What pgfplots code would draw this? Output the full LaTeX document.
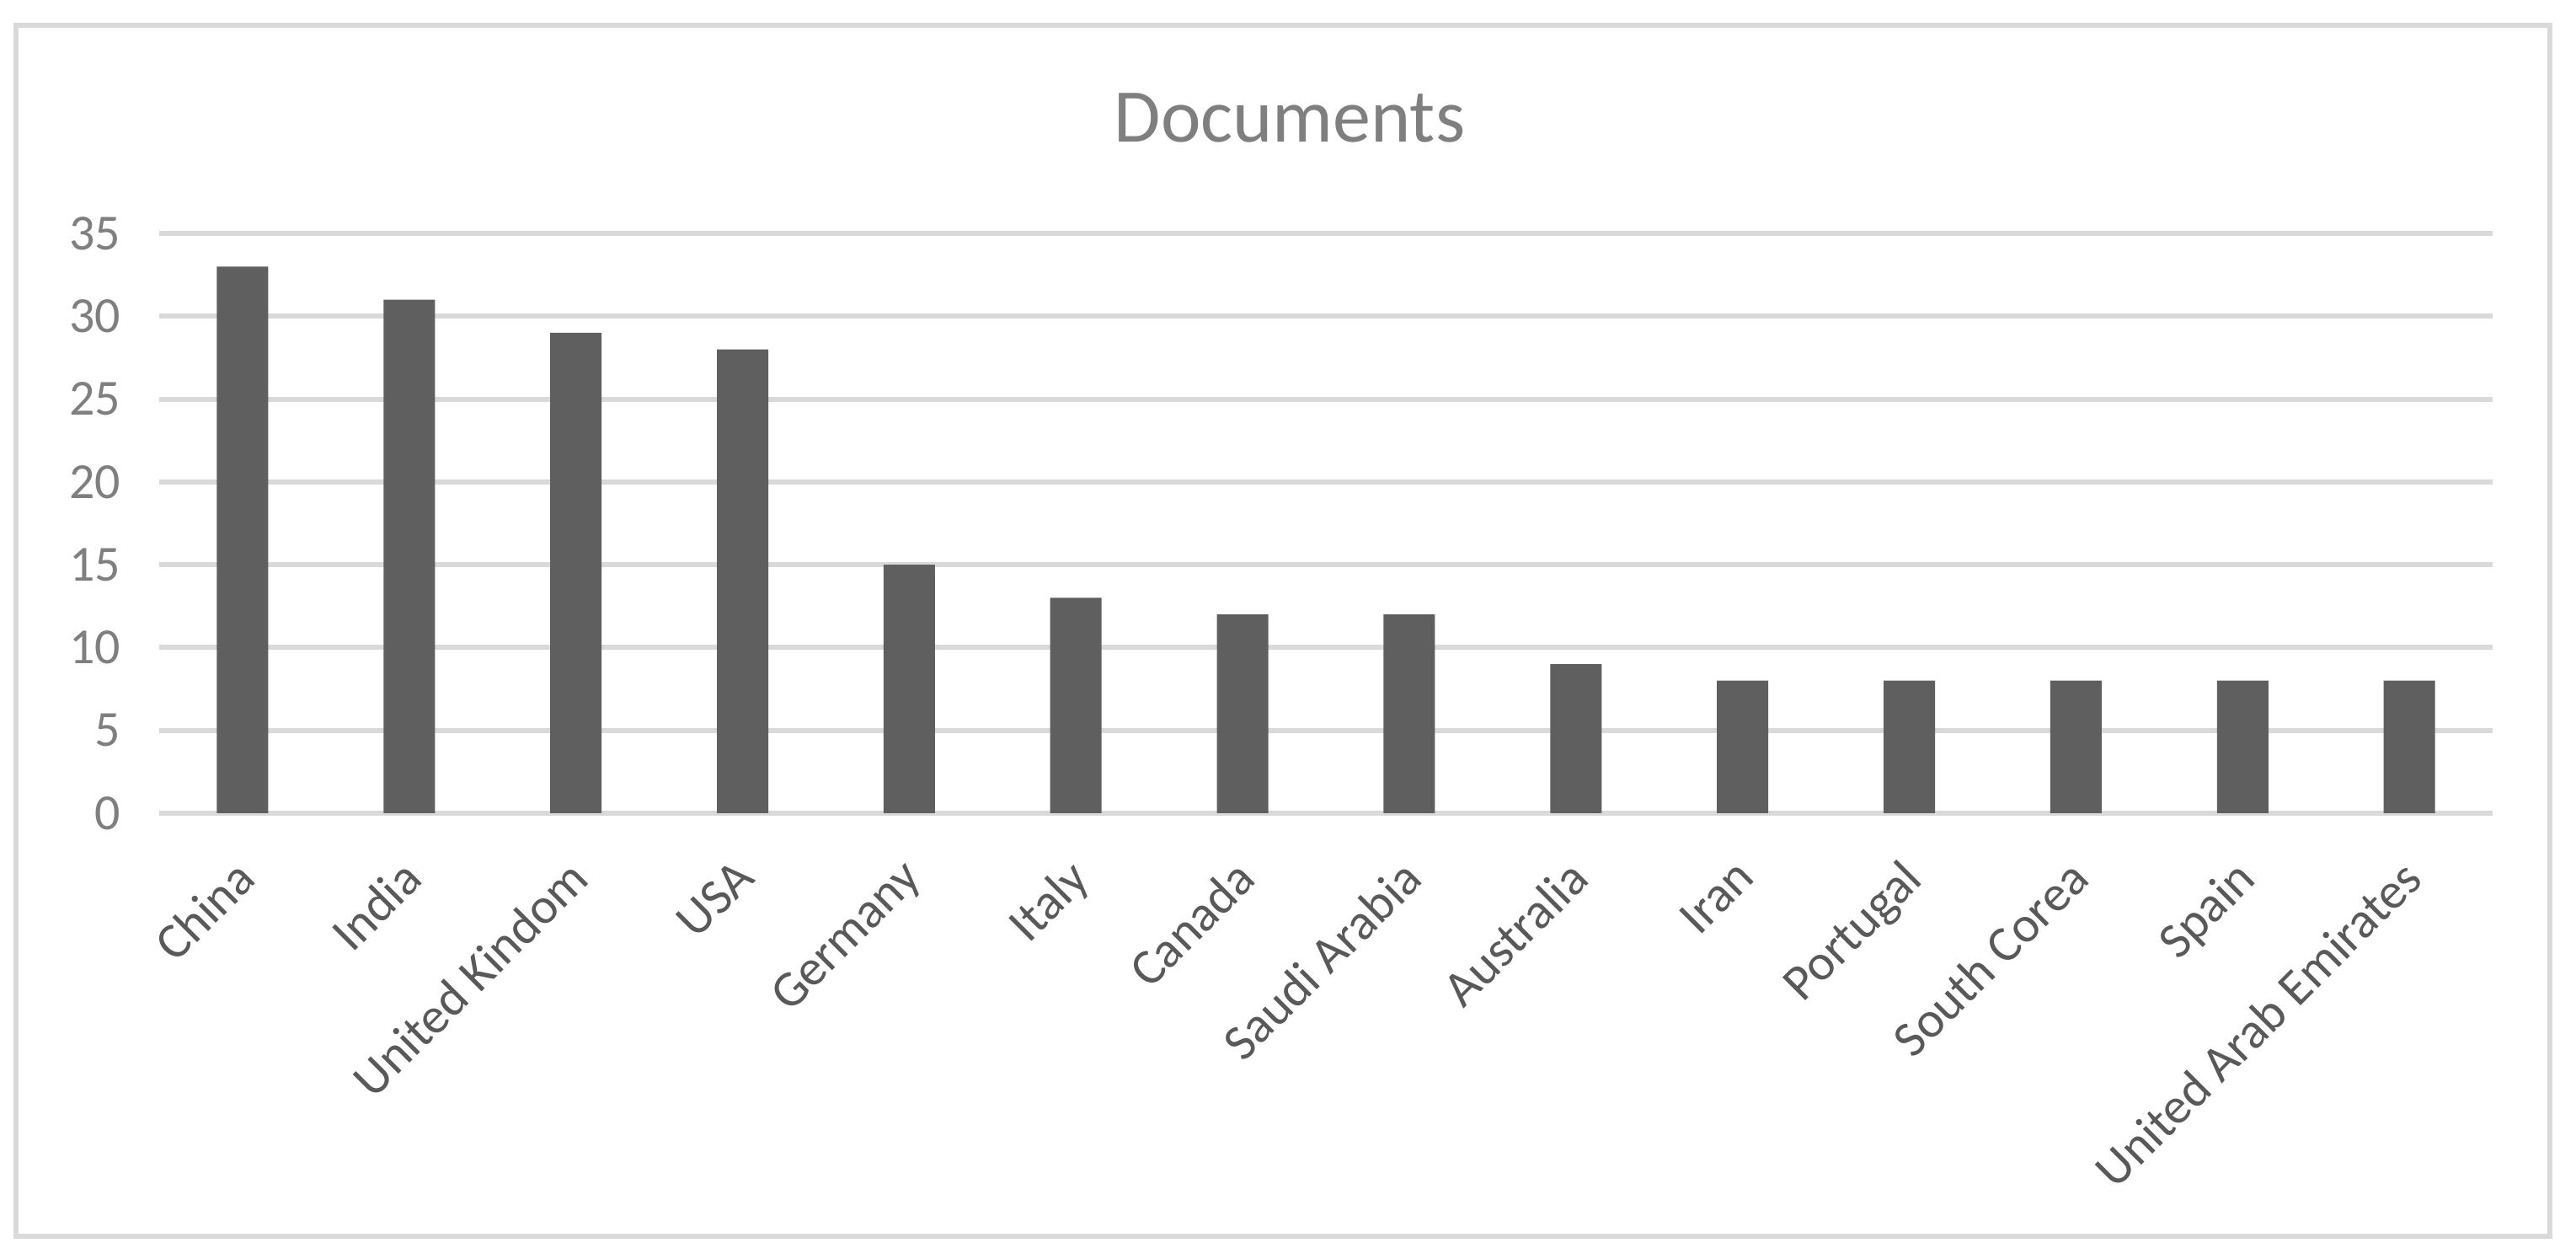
\documentclass[border=0pt]{standalone}
\usepackage{fontspec}
\setmainfont{Carlito}
\usepackage{pgfplots}
\pgfplotsset{compat=1.18}
\definecolor{bargray}{HTML}{5F5F5F}
\definecolor{gridgray}{HTML}{D9D9D9}
\definecolor{titlegray}{HTML}{7F7F7F}
\definecolor{labgray}{HTML}{595959}
\begin{document}
\begin{tikzpicture}
\fill[white] (0,0) rectangle (764.5pt,373.5pt);
\draw[line width=1.5pt, gridgray] (4.75pt,6.75pt) rectangle (756.75pt,366pt);
\node[text=titlegray, font=\fontsize{22.5}{27}\selectfont] at (382.75pt,338.5pt) {Documents};
\begin{axis}[
    at={(47.25pt,132.25pt)}, anchor=south west,
    scale only axis,
    width=692.5pt, height=172pt,
    xmin=-0.5, xmax=13.5,
    ymin=0, ymax=35,
    ytick={0,5,...,35},
    xtick={0,...,13},
    xticklabels={China,India,United Kindom,USA,Germany,Italy,Canada,Saudi Arabia,Australia,Iran,Portugal,South Corea,Spain,United Arab Emirates},
    x tick label style={rotate=45, anchor=north east, font=\fontsize{15}{18}\selectfont, text=labgray, inner sep=1pt, yshift=-6pt, xshift=-10pt},
    y tick label style={font=\fontsize{15}{18}\selectfont, text=titlegray, xshift=-8pt},
    /pgf/number format/assume math mode=true,
    axis line style={draw=none},
    major tick length=0pt,
    ymajorgrids,
    major grid style={draw=gridgray, line width=1.5pt},
    ybar,
    bar width=15.25pt,
]
\addplot[fill=bargray, draw=none] coordinates {
(0,33) (1,31) (2,29) (3,28) (4,15) (5,13) (6,12)
(7,12) (8,9) (9,8) (10,8) (11,8) (12,8) (13,8)
};
\end{axis}
\end{tikzpicture}
\end{document}
